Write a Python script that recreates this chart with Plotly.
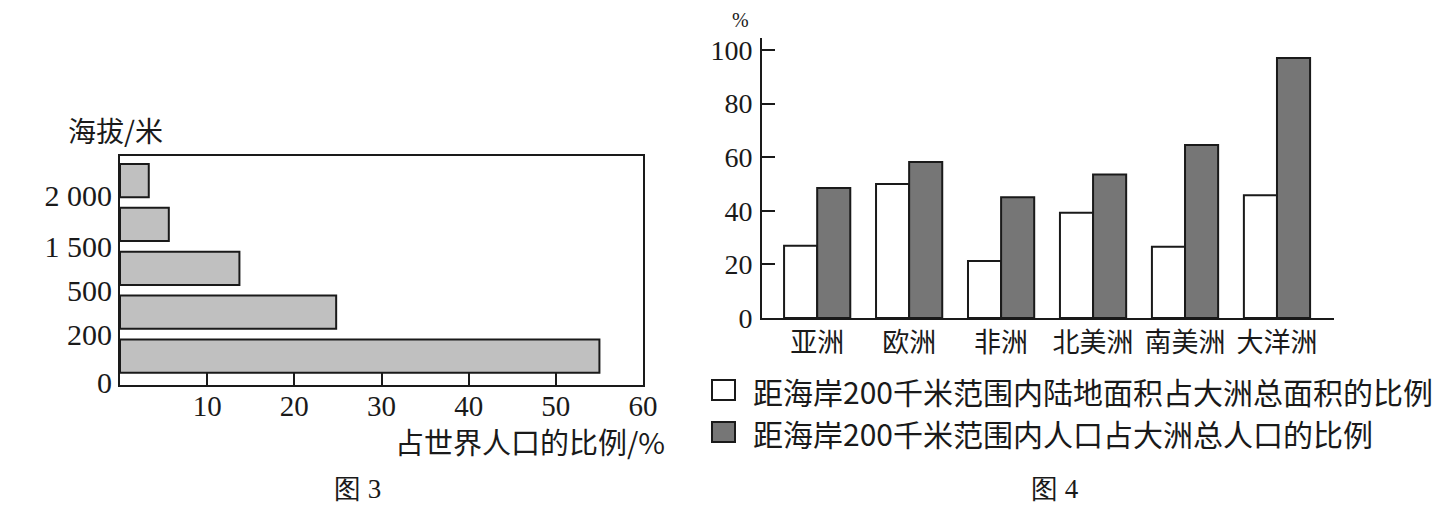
import plotly.graph_objects as go

# 图3：不同海拔范围内人口占世界人口的比例（自下而上）
ALT_TICKS = ["0", "200", "500", "1 500", "2 000"]
ALT_SHARE = [55, 24.8, 13.7, 5.6, 3.3]

# 图4：距海岸200千米范围内的比例
CONTINENTS = ["亚洲", "欧洲", "非洲", "北美洲", "南美洲", "大洋洲"]
AREA_SHARE = [27, 50, 21.3, 39.3, 26.6, 45.8]
POP_SHARE = [48.5, 58.2, 45.1, 53.6, 64.6, 97]
AREA_NAME = "距海岸200千米范围内陆地面积占大洲总面积的比例"
POP_NAME = "距海岸200千米范围内人口占大洲总人口的比例"

W, H = 1445, 508
SERIF = "Liberation Serif"
CJK = "Noto Sans CJK SC"
INK = "#1a1a1a"


def px(x):
    return x / W


def py(y):
    return 1 - y / H


fig = go.Figure()

# ---- 图3 ----
fig.add_trace(go.Bar(
    x=ALT_SHARE, y=[i + 0.5 for i in range(len(ALT_SHARE))], orientation="h",
    width=0.76, marker=dict(color="#c0c0c0", line=dict(color=INK, width=2)),
    xaxis="x", yaxis="y", showlegend=False,
))

# ---- 图4 ----
fig.add_trace(go.Bar(
    x=CONTINENTS, y=AREA_SHARE, name=AREA_NAME,
    marker=dict(color="white", line=dict(color=INK, width=2)),
    xaxis="x2", yaxis="y2", showlegend=False,
))
fig.add_trace(go.Bar(
    x=CONTINENTS, y=POP_SHARE, name=POP_NAME,
    marker=dict(color="#767676", line=dict(color=INK, width=2)),
    xaxis="x2", yaxis="y2", showlegend=False,
))

font3 = dict(family=SERIF, size=30, color=INK)
font4 = dict(family=SERIF, size=28, color=INK)

fig.update_layout(
    width=W, height=H, margin=dict(l=0, r=0, t=0, b=0, autoexpand=False),
    paper_bgcolor="white", plot_bgcolor="white", showlegend=False,
    barmode="group", bargap=0.28, bargroupgap=0,
    xaxis=dict(domain=[px(120), px(643)], range=[0, 60],
               tickvals=[10, 20, 30, 40, 50, 60], ticks="inside", ticklen=12,
               tickwidth=1.5, tickcolor=INK, tickfont=dict(family=SERIF, size=29, color=INK),
               ticklabelstandoff=-6, automargin=False,
               showline=True, linecolor=INK, linewidth=2, mirror=True,
               showgrid=False, zeroline=False, anchor="y"),
    yaxis=dict(domain=[py(385), py(156)], range=[-0.16, 5.06],
               tickvals=[-0.1, 1, 2, 3, 4.15], ticktext=ALT_TICKS,
               ticks="", tickfont=font3, ticklabelstandoff=0, automargin=False,
               showline=True, linecolor=INK, linewidth=2, mirror=True,
               showgrid=False, zeroline=False, anchor="x"),
    xaxis2=dict(domain=[px(762), px(1334)], range=[-0.6, 5.62],
                ticks="", tickfont=dict(family=CJK, size=27, color=INK),
                automargin=False,
                showline=True, linecolor=INK, linewidth=2,
                showgrid=False, zeroline=False, anchor="y2"),
    yaxis2=dict(domain=[py(318), py(38)], range=[0, 104.5],
                tickvals=[0, 20, 40, 60, 80, 100], ticks="inside", ticklen=13,
                tickwidth=2, tickcolor=INK, tickfont=font4,
                ticklabelstandoff=2, automargin=False,
                showline=True, linecolor=INK, linewidth=2,
                showgrid=False, zeroline=False, anchor="x2"),
)

# 图4 图例（手绘方块 + 文字）
for y0, fill, name in [(380, "white", AREA_NAME), (422, "#767676", POP_NAME)]:
    fig.add_shape(type="rect", xref="paper", yref="paper",
                  x0=px(712), x1=px(735), y0=py(y0 + 20), y1=py(y0),
                  fillcolor=fill, line=dict(color=INK, width=2))
    fig.add_annotation(x=px(751), y=py(y0 + 11), xref="paper", yref="paper",
                       text=name, showarrow=False, xanchor="left", yanchor="middle",
                       font=dict(family=CJK, size=30, color=INK))

notes = [
    ("海拔/米", 66, 130, "left", CJK, 28),
    ("占世界人口的比例/%", 667, 441, "right", CJK, 29),
    ("图 3", 357, 489, "center", SERIF, 27),
    ("图 4", 1055, 489, "center", SERIF, 27),
    ("%", 740, 20, "center", SERIF, 20),
]
for text, x, y, anchor, fam, size in notes:
    fig.add_annotation(x=px(x), y=py(y), xref="paper", yref="paper", text=text,
                       showarrow=False, xanchor=anchor, yanchor="middle",
                       font=dict(family=fam, size=size, color=INK))

fig.write_html(
    "out.html",
    config={"displayModeBar": False},
    post_script="document.documentElement.style.margin='0';"
                "document.body.style.margin='0';"
                "document.body.style.overflow='hidden';",
)
